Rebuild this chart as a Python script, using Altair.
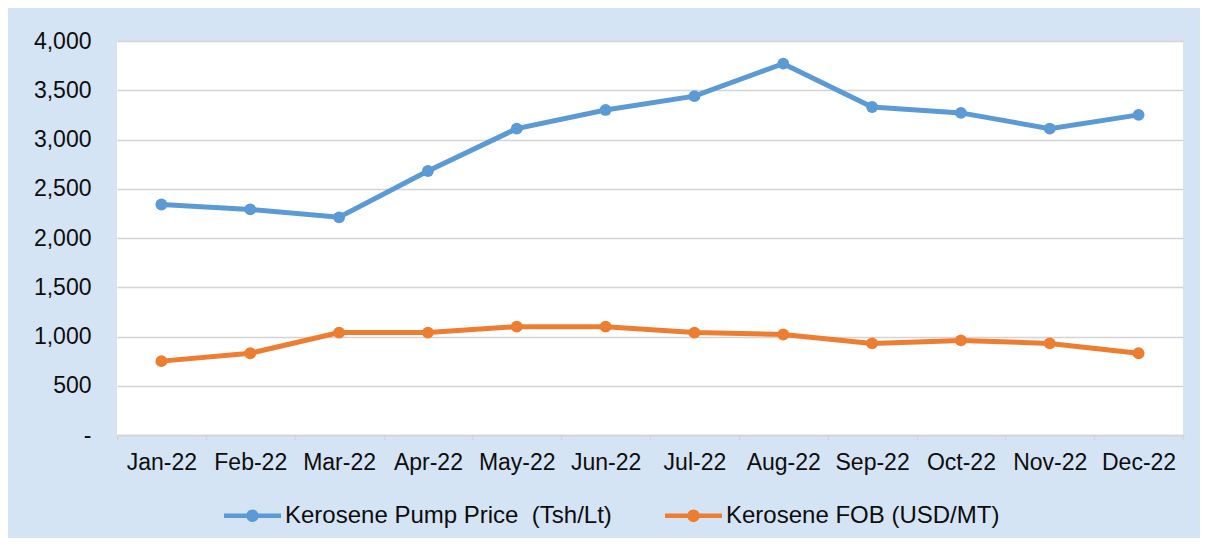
import altair as alt
import pandas as pd

months = ["Jan-22", "Feb-22", "Mar-22", "Apr-22", "May-22", "Jun-22",
          "Jul-22", "Aug-22", "Sep-22", "Oct-22", "Nov-22", "Dec-22"]
pump_price = [2340, 2290, 2210, 2680, 3110, 3300, 3440, 3770, 3330, 3270, 3110, 3250]
fob_price = [750, 830, 1040, 1040, 1100, 1100, 1040, 1020, 930, 960, 930, 830]
series_names = ["Kerosene Pump Price \u00a0(Tsh/Lt)", "Kerosene FOB (USD/MT)"]
series_colors = ["#5b9bd5", "#ed7d31"]
y_ticks = [0, 500, 1000, 1500, 2000, 2500, 3000, 3500, 4000]

rows = []
for m, v in zip(months, pump_price):
    rows.append({"month": m, "series": series_names[0], "value": v})
for m, v in zip(months, fob_price):
    rows.append({"month": m, "series": series_names[1], "value": v})
df = pd.DataFrame(rows)

FONT = "Liberation Sans"
TXT = "#0d0d0d"

legend_path = ("M-1,-0.08 H1 V0.08 H-1 Z "
               "M0.22,0 A0.22,0.22 0 1,1 -0.22,0 A0.22,0.22 0 1,1 0.22,0 Z")

x_enc = alt.X("month:N", sort=months, title=None,
              scale=alt.Scale(paddingInner=0, paddingOuter=0),
              axis=alt.Axis(labelAngle=0, labelFont=FONT, labelFontSize=23,
                            labelColor=TXT, labelPadding=11,
                            domainColor="#d4d4d4", domainWidth=1.5,
                            tickColor="#d4d4d4", tickWidth=1.5, tickSize=5,
                            tickBand="extent", grid=False))
y_enc = alt.Y("value:Q", title=None,
              scale=alt.Scale(domain=[0, 4000], nice=False),
              axis=alt.Axis(values=y_ticks, labelFont=FONT, labelFontSize=23,
                            labelColor=TXT, labelPadding=26,
                            labelExpr="datum.value == 0 ? '-' : format(datum.value, ',')",
                            domain=False, ticks=False, gridColor="#d4d4d4",
                            gridWidth=1.5))
color_enc = alt.Color("series:N", title=None,
                      scale=alt.Scale(domain=series_names, range=series_colors),
                      legend=alt.Legend(orient="none", direction="horizontal",
                                        legendX=107, legendY=446,
                                        symbolType=legend_path, symbolSize=3249,
                                        symbolStrokeWidth=0, labelFont=FONT,
                                        labelFontSize=24, labelColor=TXT,
                                        labelOffset=4, columnPadding=53,
                                        labelLimit=500))

base = alt.Chart(df)
points = base.mark_circle(size=140, opacity=1).encode(x=x_enc, y=y_enc, color=color_enc)
lines = base.mark_line(strokeWidth=5).encode(x=x_enc, y=y_enc, color=color_enc)

chart = alt.layer(points, lines).properties(
    width=1066, height=394,
    autosize=alt.AutoSizeParams(type="none"),
    padding={"left": 109, "top": 33, "right": 17, "bottom": 103},
    background="#d5e4f4",
).configure_view(fill="white", stroke=None)

chart.save("out.html", embed_options={"renderer": "svg", "actions": False})
